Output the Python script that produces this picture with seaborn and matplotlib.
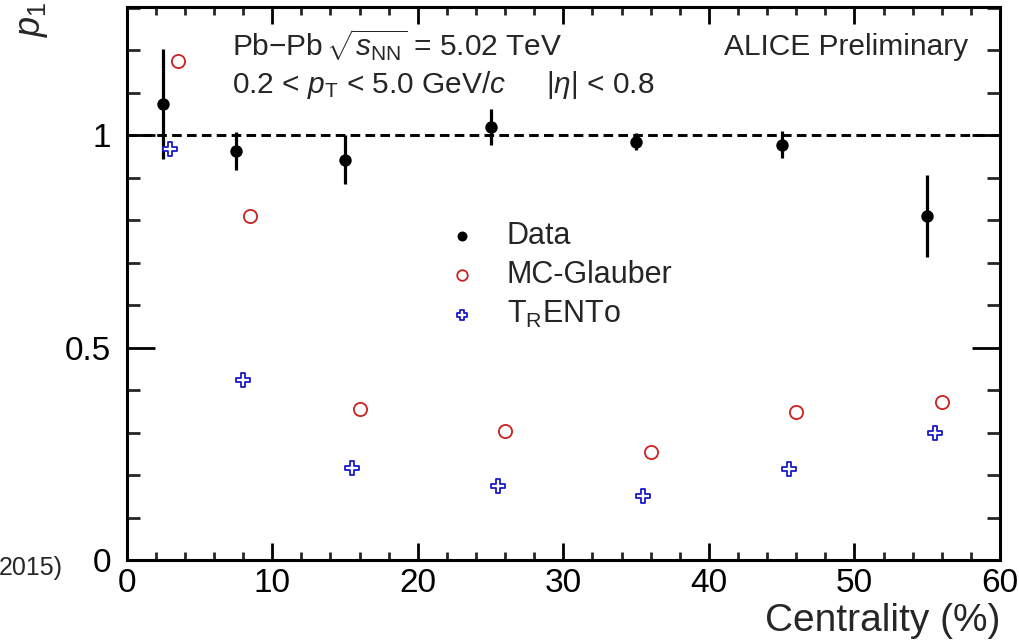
import matplotlib
matplotlib.use("Agg")
import matplotlib.pyplot as plt
import seaborn as sns
import pandas as pd
from matplotlib.ticker import MultipleLocator

# ---- data ----
cent_data = [2.5, 7.5, 15, 25, 35, 45, 55]
p1_data = [1.074, 0.964, 0.943, 1.020, 0.985, 0.978, 0.810]
p1_err = [0.129, 0.045, 0.057, 0.043, 0.020, 0.032, 0.097]

cent_glauber = [3.5, 8.5, 16, 26, 36, 46, 56]
p1_glauber = [1.175, 0.811, 0.356, 0.304, 0.255, 0.349, 0.372]

cent_trento = [3, 8, 15.5, 25.5, 35.5, 45.5, 55.5]
p1_trento = [0.969, 0.424, 0.217, 0.174, 0.151, 0.214, 0.299]

x_ticks = [0, 10, 20, 30, 40, 50, 60]
y_ticks = [0, 0.5, 1]
y_ticklabels = ["0", "0.5", "1"]

sns.set_style("ticks")
plt.rcParams['font.family'] = ['Liberation Sans', 'DejaVu Sans']
plt.rcParams['mathtext.fontset'] = 'custom'
plt.rcParams['mathtext.rm'] = 'Liberation Sans'
plt.rcParams['mathtext.it'] = 'Liberation Sans:italic'
plt.rcParams['mathtext.bf'] = 'Liberation Sans:bold'

fig = plt.figure(figsize=(10.19, 6.40), dpi=100)
ax = fig.add_axes([126.7 / 1019, 1 - 560 / 640, (1000 - 126.7) / 1019, (560 - 6.7) / 640])

df_data = pd.DataFrame({"x": cent_data, "y": p1_data})
df_gl = pd.DataFrame({"x": cent_glauber, "y": p1_glauber})
df_tr = pd.DataFrame({"x": cent_trento, "y": p1_trento})

ax.axhline(1.0, color="black", lw=2.1, ls=(0, (3.3, 1.8)), zorder=1)

ax.errorbar(cent_data, p1_data, yerr=p1_err, fmt="none", ecolor="black",
            elinewidth=2.3, capsize=0, zorder=2)
sns.scatterplot(data=df_data, x="x", y="y", ax=ax, marker="o", s=80,
                color="black", edgecolor="black", linewidth=0, zorder=3,
                label="Data")
sns.scatterplot(data=df_gl, x="x", y="y", ax=ax, marker="o", s=90,
                color="white", edgecolor="#cc2020", linewidth=1.3, zorder=3,
                label="MC-Glauber")
sns.scatterplot(data=df_tr, x="x", y="y", ax=ax, marker="P", s=90,
                color="white", edgecolor="#1a1ac8", linewidth=1.3, zorder=3,
                label=r"T$_{\rm R}$ENTo")

ax.set_xlim(0, 60)
ax.set_ylim(0, 1.303)
ax.set_xticks(x_ticks)
ax.set_xticklabels([str(t) for t in x_ticks])
ax.set_yticks(y_ticks)
ax.set_yticklabels(y_ticklabels)
ax.xaxis.set_minor_locator(MultipleLocator(2))
ax.yaxis.set_minor_locator(MultipleLocator(0.1))

for s in ax.spines.values():
    s.set_linewidth(2.2)
    s.set_color("black")

ax.tick_params(axis="x", which="major", direction="in", length=12.5, width=2.0,
               top=True, bottom=True, labelsize=24, pad=6, colors="black")
ax.tick_params(axis="x", which="minor", direction="in", length=6, width=2.0,
               top=True, bottom=True)
ax.tick_params(axis="y", which="major", direction="in", length=20, width=2.0,
               left=True, right=True, labelsize=24, pad=11, colors="black")
ax.tick_params(axis="y", which="minor", direction="in", length=9.5, width=2.0,
               left=True, right=True)

ax.set_xlabel("Centrality (%)", fontsize=28, loc="right", labelpad=2.5)
ax.set_ylabel("")
fig.text(32 / 1019, 1 - 1 / 640, r"$p_{1}$", rotation=90, fontsize=26,
         ha="center", va="top")

fig.text(232 / 1019, 1 - 56 / 640, r"Pb$-$Pb$\,\sqrt{s_{\rm NN}}$ = 5.02 TeV",
         fontsize=21.5, ha="left", va="baseline")
fig.text(232 / 1019, 1 - 93 / 640,
         r"0.2 < $p_{\rm T}$ < 5.0 GeV/$c$     |$\eta$| < 0.8",
         fontsize=21.5, ha="left", va="baseline")
fig.text(968 / 1019, 1 - 55 / 640, "ALICE Preliminary", fontsize=21.5,
         ha="right", va="baseline")

fig.text(63 / 1019, 1 - 568 / 640, "2015)", fontsize=18, ha="right",
         va="center")

leg = ax.legend(loc="upper left", bbox_to_anchor=(447 / 1019, 1 - 221 / 640),
                bbox_transform=fig.transFigure, frameon=False, fontsize=22,
                borderpad=0, borderaxespad=0, handlelength=1.0,
                handletextpad=0.95, labelspacing=0.3, markerscale=0.8)

fig.savefig("out.png", dpi=100)
